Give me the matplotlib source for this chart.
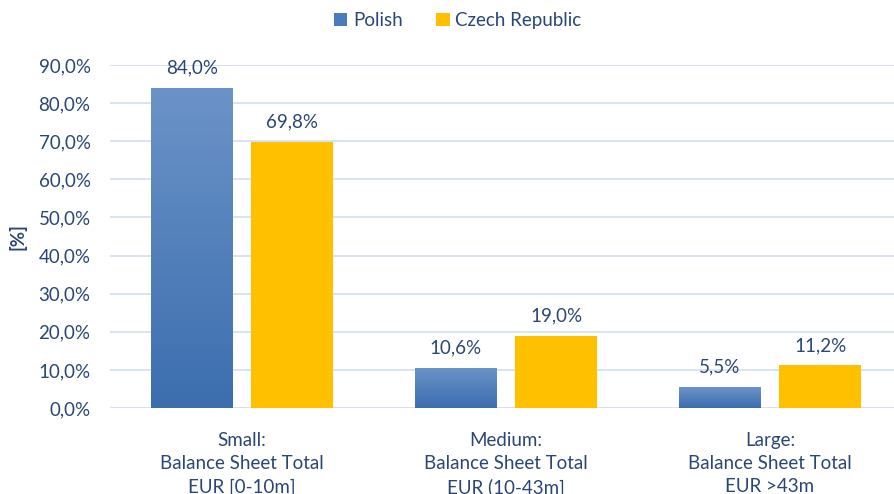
import matplotlib.pyplot as plt
import numpy as np
from matplotlib.colors import LinearSegmentedColormap
from matplotlib.patches import Patch

plt.rcParams['font.family'] = ['Lato', 'DejaVu Sans']

# Data
categories = ['Small:\nBalance Sheet Total\nEUR [0-10m]',
              'Medium:\nBalance Sheet Total\nEUR (10-43m]',
              'Large:\nBalance Sheet Total\nEUR >43m']
polish = [84.0, 10.6, 5.5]
czech = [69.8, 19.0, 11.2]
series_names = ['Polish', 'Czech Republic']

text_col = '#2A4677'
blue = '#4A7CBD'
yellow = '#FFC000'
grid_col = '#D6E1F2'
fs = 13.5

fig = plt.figure(figsize=(8.94, 4.94), dpi=100)
ax = fig.add_axes([110 / 894, 86 / 494, 792 / 894, 343 / 494])

x = np.arange(len(categories))
w = 0.31
off = 0.19

grad = LinearSegmentedColormap.from_list('g', ['#3C6EAE', '#6B93C8'])
bars_p = ax.bar(x - off, polish, w, color=blue, zorder=2)
for b in bars_p:
    x0, y0 = b.get_x(), b.get_y()
    im = ax.imshow(np.linspace(0, 1, 100).reshape(-1, 1), cmap=grad, aspect='auto',
                   origin='lower', extent=[x0, x0 + b.get_width(), y0, y0 + b.get_height()],
                   zorder=3)
    im.set_clip_path(b)
ax.bar(x + off, czech, w, color=yellow, zorder=2)

for xi, v in zip(x - off, polish):
    ax.text(xi, v + 3.0, f'{v:.1f}%'.replace('.', ','), ha='center', va='bottom',
            fontsize=fs, color=text_col)
for xi, v in zip(x + off, czech):
    ax.text(xi, v + 3.0, f'{v:.1f}%'.replace('.', ','), ha='center', va='bottom',
            fontsize=fs, color=text_col)

ax.set_xlim(-0.5, 2.5)
ax.set_ylim(0, 90)
ax.set_yticks(np.arange(0, 91, 10))
ax.set_yticklabels([f'{t:.1f}%'.replace('.', ',') for t in np.arange(0, 91, 10)])
ax.set_xticks(x)
ax.set_xticklabels(categories, linespacing=1.45)
ax.tick_params(length=0, labelsize=fs, labelcolor=text_col)
ax.tick_params(axis='y', pad=14)
ax.tick_params(axis='x', pad=17)
ax.grid(axis='y', color=grid_col, lw=1.3, zorder=0)
ax.set_axisbelow(True)
for s in ax.spines.values():
    s.set_visible(False)
ax.axhline(0, color=grid_col, lw=1.5, zorder=1)

ax.set_ylabel('[%]', fontsize=fs, fontweight='bold', color=text_col)
ax.yaxis.set_label_coords(-0.105, 0.5)

handles = [Patch(facecolor=blue), Patch(facecolor=yellow)]
fig.legend(handles, series_names, loc='upper center', bbox_to_anchor=(0.512, 1.01),
           ncol=2, frameon=False, fontsize=fs, labelcolor=text_col,
           handlelength=0.7, handleheight=0.7, handletextpad=0.3, columnspacing=1.8)

plt.savefig('out.png', dpi=100)
